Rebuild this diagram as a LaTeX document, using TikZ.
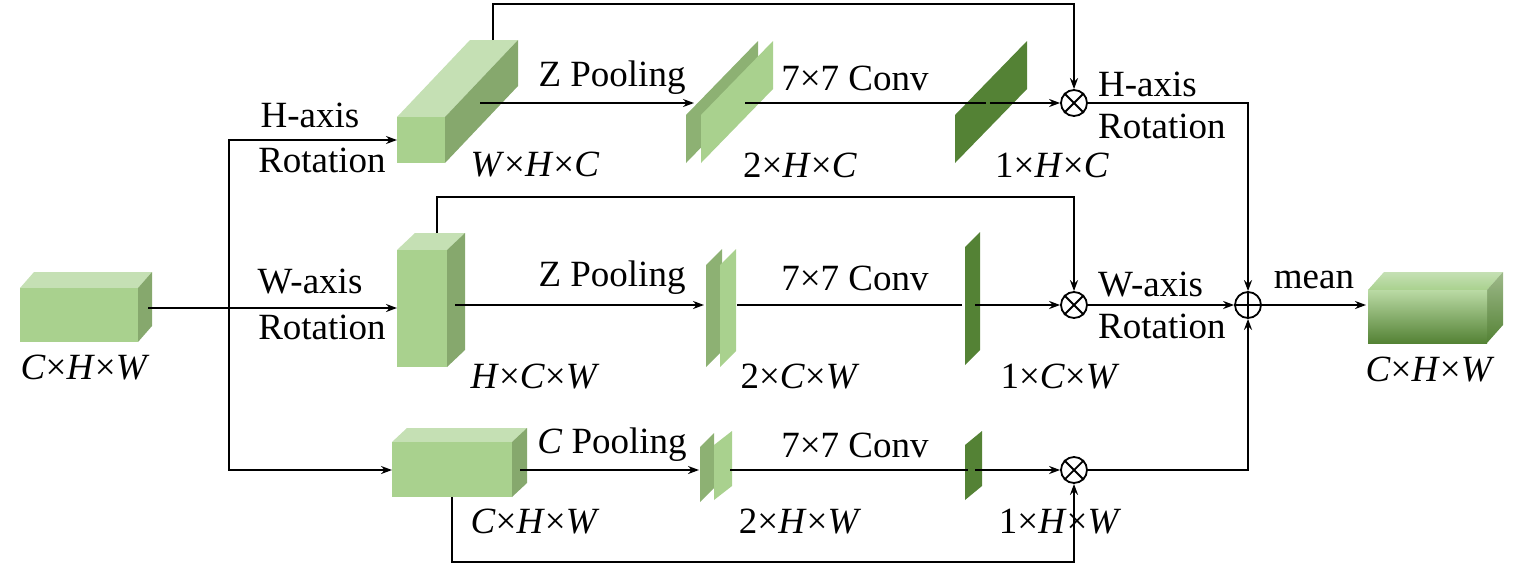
\documentclass[tikz,border=0pt]{standalone}
\usepackage{fontspec}
\setmainfont{Liberation Serif}
\usetikzlibrary{arrows.meta}
\tikzset{
  lbl/.style={font=\fontsize{37}{40}\selectfont, inner sep=0pt},
  arr/.style={-{Stealth[length=11pt,width=8pt]}, line width=1.8pt},
  ln/.style={line width=1.8pt},
  op/.style={circle, draw, line width=1.8pt, minimum size=26pt, inner sep=0pt},
}
\definecolor{gf}{HTML}{A9D18E}
\definecolor{gt}{HTML}{C5E0B4}
\definecolor{gs}{HTML}{86A86D}
\definecolor{gd}{HTML}{548235}
\definecolor{gm}{HTML}{8DB173}
% cuboid: x y w h dx dy (pixel coords, y down)
\newcommand{\cub}[6]{%
  \fill[gt] (#1,#2) -- ++(#5,-#6) -- ++(#3,0) -- ++(-#5,#6) -- cycle;
  \fill[gs] (#1+#3,#2) -- ++(#5,-#6) -- ++(0,#4) -- ++(-#5,#6) -- cycle;
  \fill[gf] (#1,#2) rectangle ++(#3,#4);}
% plate: x ybottom h dx dy color
\newcommand{\plate}[6]{%
  \fill[#6] (#1,#2) -- ++(0,-#3) -- ++(#4,-#5) -- ++(0,#3) -- cycle;}
\begin{document}
\begin{tikzpicture}[x=1pt,y=-1pt]
\useasboundingbox (0,0) rectangle (1520,568);
% input
\cub{20}{288}{118}{54}{14}{16}
\node[lbl] at (85,368) {\textit{C}×\textit{H}×\textit{W}};
\coordinate (in) at (148,308);
\coordinate (j) at (229,308);
% top branch
\cub{397}{117}{48}{46}{73}{77}
\node[lbl] at (535,165) {\textit{W}×\textit{H}×\textit{C}};
\draw[ln] (in) -- (j);
\draw[arr] (j) |- (397,140);
\draw[arr] (j) -- (397,308);
\draw[arr] (j) |- (392,470);
\node[lbl] at (310,115) {H-axis};
\node[lbl] at (322,160) {Rotation};
\node[lbl] at (310,282) {W-axis};
\node[lbl] at (322,327) {Rotation};
\plate{686}{163}{48}{72}{74}{gm}
\plate{701}{163}{48}{72}{74}{gf}
\plate{955}{163}{48}{72}{74}{gd}
\node[op] (m1) at (1074,103) {};
\draw[ln] (m1.north west) -- (m1.south east) (m1.north east) -- (m1.south west);
\draw[arr] (480,103) -- (694,103);
\draw[ln] (745,103) -- (986,103);
\draw[arr] (990,103) -- (m1);
\draw[arr] (493,40) -- (493,4) -| (m1);
\node[lbl] at (612,78) {Z Pooling};
\node[lbl] at (855,78) {7×7 Conv};
\node[lbl] at (800,165) {2×\textit{H}×\textit{C}};
\node[lbl] at (1052,165) {1×\textit{H}×\textit{C}};
\node[lbl,align=left,anchor=west] at (1098,105) {H-axis\\[2pt]Rotation};
% middle branch
\cub{397}{250}{50}{117}{18}{17}
\node[lbl] at (535,377) {\textit{H}×\textit{C}×\textit{W}};
\plate{706}{367}{102}{16}{16}{gm}
\plate{720}{367}{102}{16}{16}{gf}
\plate{965}{365}{118}{15}{15}{gd}
\node[op] (m2) at (1074,305) {};
\draw[ln] (m2.north west) -- (m2.south east) (m2.north east) -- (m2.south west);
\node[op] (s) at (1248,305) {};
\draw[ln] (s.north) -- (s.south) (s.west) -- (s.east);
\draw[arr] (455,305) -- (704,305);
\draw[ln] (737,305) -- (962,305);
\draw[arr] (975,305) -- (m2);
\draw[arr] (437,233) -- (437,197) -| (m2);
\draw[arr] (m2) -- (s);
\node[lbl] at (612,278) {Z Pooling};
\node[lbl] at (855,278) {7×7 Conv};
\node[lbl] at (800,377) {2×\textit{C}×\textit{W}};
\node[lbl] at (1060,377) {1×\textit{C}×\textit{W}};
\node[lbl,align=left,anchor=west] at (1098,305) {W-axis\\[2pt]Rotation};
\node[lbl] at (1314,280) {mean};
% output
\shade[top color=gt, bottom color=gf] (1368,290) -- ++(16,-18) -- ++(119,0) -- ++(-16,18) -- cycle;
\shade[top color=gs!80, bottom color=gd] (1487,290) -- ++(16,-18) -- ++(0,53) -- ++(-16,18) -- cycle;
\shade[top color=gf!80, bottom color=gd] (1368,290) rectangle (1487,343);
\draw[arr] (s) -- (1366,305);
\node[lbl] at (1430,370) {\textit{C}×\textit{H}×\textit{W}};
% bottom branch
\cub{392}{442}{120}{55}{15}{14}
\node[lbl] at (535,522) {\textit{C}×\textit{H}×\textit{W}};
\plate{700}{502}{55}{14}{14}{gm}
\plate{714}{500}{55}{18}{14}{gf}
\plate{965}{500}{55}{17}{14}{gd}
\node[op] (m3) at (1074,470) {};
\draw[ln] (m3.north west) -- (m3.south east) (m3.north east) -- (m3.south west);
\draw[arr] (520,470) -- (699,470);
\draw[ln] (730,470) -- (968,470);
\draw[arr] (975,470) -- (m3);
\draw[arr] (452,497) -- (452,562) -| (m3);
\draw[arr] (m3) -| (s);
\draw[arr] (m1) -| (s);
\node[lbl] at (612,445) {\textit{C} Pooling};
\node[lbl] at (855,445) {7×7 Conv};
\node[lbl] at (800,522) {2×\textit{H}×\textit{W}};
\node[lbl] at (1060,522) {1×\textit{H}×\textit{W}};
\end{tikzpicture}
\end{document}
